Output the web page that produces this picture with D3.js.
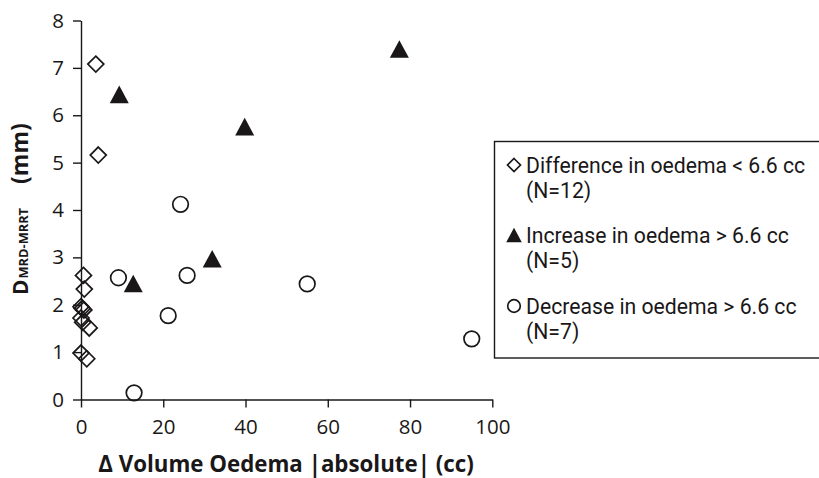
<!DOCTYPE html>
<html>
<head>
<meta charset="utf-8">
<script src="https://cdn.jsdelivr.net/npm/d3@7"></script>
<style>
  body { margin: 0; background: #fff; }
  svg text { font-family: "Open Sans", sans-serif; fill: #1a1718; }
  svg text.legend-label { font-family: Roboto, sans-serif; }
</style>
</head>
<body>
<div id="chart"></div>
<script>
// data
let diamondX = [3.6, 4.2, 0.6, 0.8, 0.0, 0.7, 0.0, 0.4, 2.0, 0.0, 1.4, 0.3]
let diamondY = [7.08, 5.16, 2.62, 2.33, 1.96, 1.89, 1.72, 1.63, 1.51, 0.98, 0.86, 1.92]
let triangleX = [77.4, 9.3, 39.8, 31.9, 12.7]
let triangleY = [7.40, 6.44, 5.76, 2.97, 2.45]
let circleX = [24.2, 9.1, 25.8, 21.2, 55.0, 95.0, 12.9]
let circleY = [4.12, 2.57, 2.62, 1.77, 2.44, 1.28, 0.14]

let xTicks = [0, 20, 40, 60, 80, 100]
let yTicks = [0, 1, 2, 3, 4, 5, 6, 7, 8]
let legendLabels = [
  ['Difference in oedema < 6.6 cc', '(N=12)'],
  ['Increase in oedema > 6.6 cc', '(N=5)'],
  ['Decrease in oedema > 6.6 cc', '(N=7)']
]

let width = 819
let height = 478
let ink = '#1a1718'

let svg = d3.select('#chart').append('svg')
  .attr('width', width)
  .attr('height', height)

let x = d3.scaleLinear().domain([0, 100]).range([81, 492.3])
let y = d3.scaleLinear().domain([0, 8]).range([399.5, 20.5])

// marker shapes
function diamond(r) {
  return `M 0 ${-r} L ${r} 0 L 0 ${r} L ${-r} 0 Z`
}
function triangle(w, h) {
  return `M 0 ${-h} L ${w} ${h} L ${-w} ${h} Z`
}

// axes
svg.append('g')
  .attr('transform', `translate(0,${y(0)})`)
  .call(d3.axisBottom(x).tickValues(xTicks).tickSize(8).tickSizeOuter(0).tickPadding(12))
svg.append('g')
  .attr('transform', `translate(${x(0)},0)`)
  .call(d3.axisLeft(y).tickValues(yTicks).tickSize(8).tickSizeOuter(0).tickPadding(9))

svg.selectAll('.domain, .tick line')
  .attr('stroke', ink)
  .attr('stroke-width', 1.4)
svg.selectAll('.tick text')
  .style('font-family', '"Open Sans", sans-serif')
  .style('font-size', '20.5px')
  .attr('fill', ink)

// axis titles
svg.append('text')
  .attr('x', 286)
  .attr('y', 472)
  .attr('text-anchor', 'middle')
  .style('font-size', '22.3px')
  .style('font-weight', 'bold')
  .text('Δ Volume Oedema |absolute| (cc)')

let yTitle = svg.append('text')
  .attr('transform', 'translate(28,295) rotate(-90)')
  .style('font-weight', 'bold')
yTitle.append('tspan').style('font-size', '21px').text('D')
yTitle.append('tspan').style('font-size', '12.8px').attr('dx', 1).text('MRD-MRRT')
yTitle.append('tspan').style('font-size', '23px').attr('dx', 24).text('(mm)')

// points
let plot = svg.append('g')

plot.selectAll('path.diamond')
  .data(d3.zip(diamondX, diamondY))
  .enter()
  .append('path')
  .attr('class', 'diamond')
  .attr('d', diamond(8))
  .attr('transform', d => `translate(${x(d[0])},${y(d[1])})`)
  .attr('fill', 'none')
  .attr('stroke', ink)
  .attr('stroke-width', 1.7)

plot.selectAll('circle.decrease')
  .data(d3.zip(circleX, circleY))
  .enter()
  .append('circle')
  .attr('class', 'decrease')
  .attr('cx', d => x(d[0]))
  .attr('cy', d => y(d[1]))
  .attr('r', 7.8)
  .attr('fill', 'none')
  .attr('stroke', ink)
  .attr('stroke-width', 1.7)

plot.selectAll('path.increase')
  .data(d3.zip(triangleX, triangleY))
  .enter()
  .append('path')
  .attr('class', 'increase')
  .attr('d', triangle(9.5, 8.8))
  .attr('transform', d => `translate(${x(d[0])},${y(d[1])})`)
  .attr('fill', ink)

// legend
let legend = svg.append('g')
legend.append('rect')
  .attr('x', 494.5)
  .attr('y', 141.5)
  .attr('width', 400)
  .attr('height', 216.5)
  .attr('fill', 'white')
  .attr('stroke', ink)
  .attr('stroke-width', 1.4)

let legendTop = [173, 243, 314]
legendLabels.forEach(function (lines, i) {
  let base = legendTop[i]
  let mark = legend.append('g').attr('transform', `translate(514,${base - 8})`)
  if (i === 0) {
    mark.append('path').attr('d', diamond(6.5)).attr('fill', 'none')
      .attr('stroke', ink).attr('stroke-width', 1.7)
  } else if (i === 1) {
    mark.append('path').attr('d', triangle(7.8, 7.2)).attr('fill', ink)
  } else {
    mark.append('circle').attr('r', 6.3).attr('fill', 'none')
      .attr('stroke', ink).attr('stroke-width', 1.7)
  }
  lines.forEach(function (line, j) {
    legend.append('text')
      .attr('class', 'legend-label')
      .attr('x', 526)
      .attr('y', base + j * 25)
      .style('font-size', '21.2px')
      .text(line)
  })
})
</script>
</body>
</html>
